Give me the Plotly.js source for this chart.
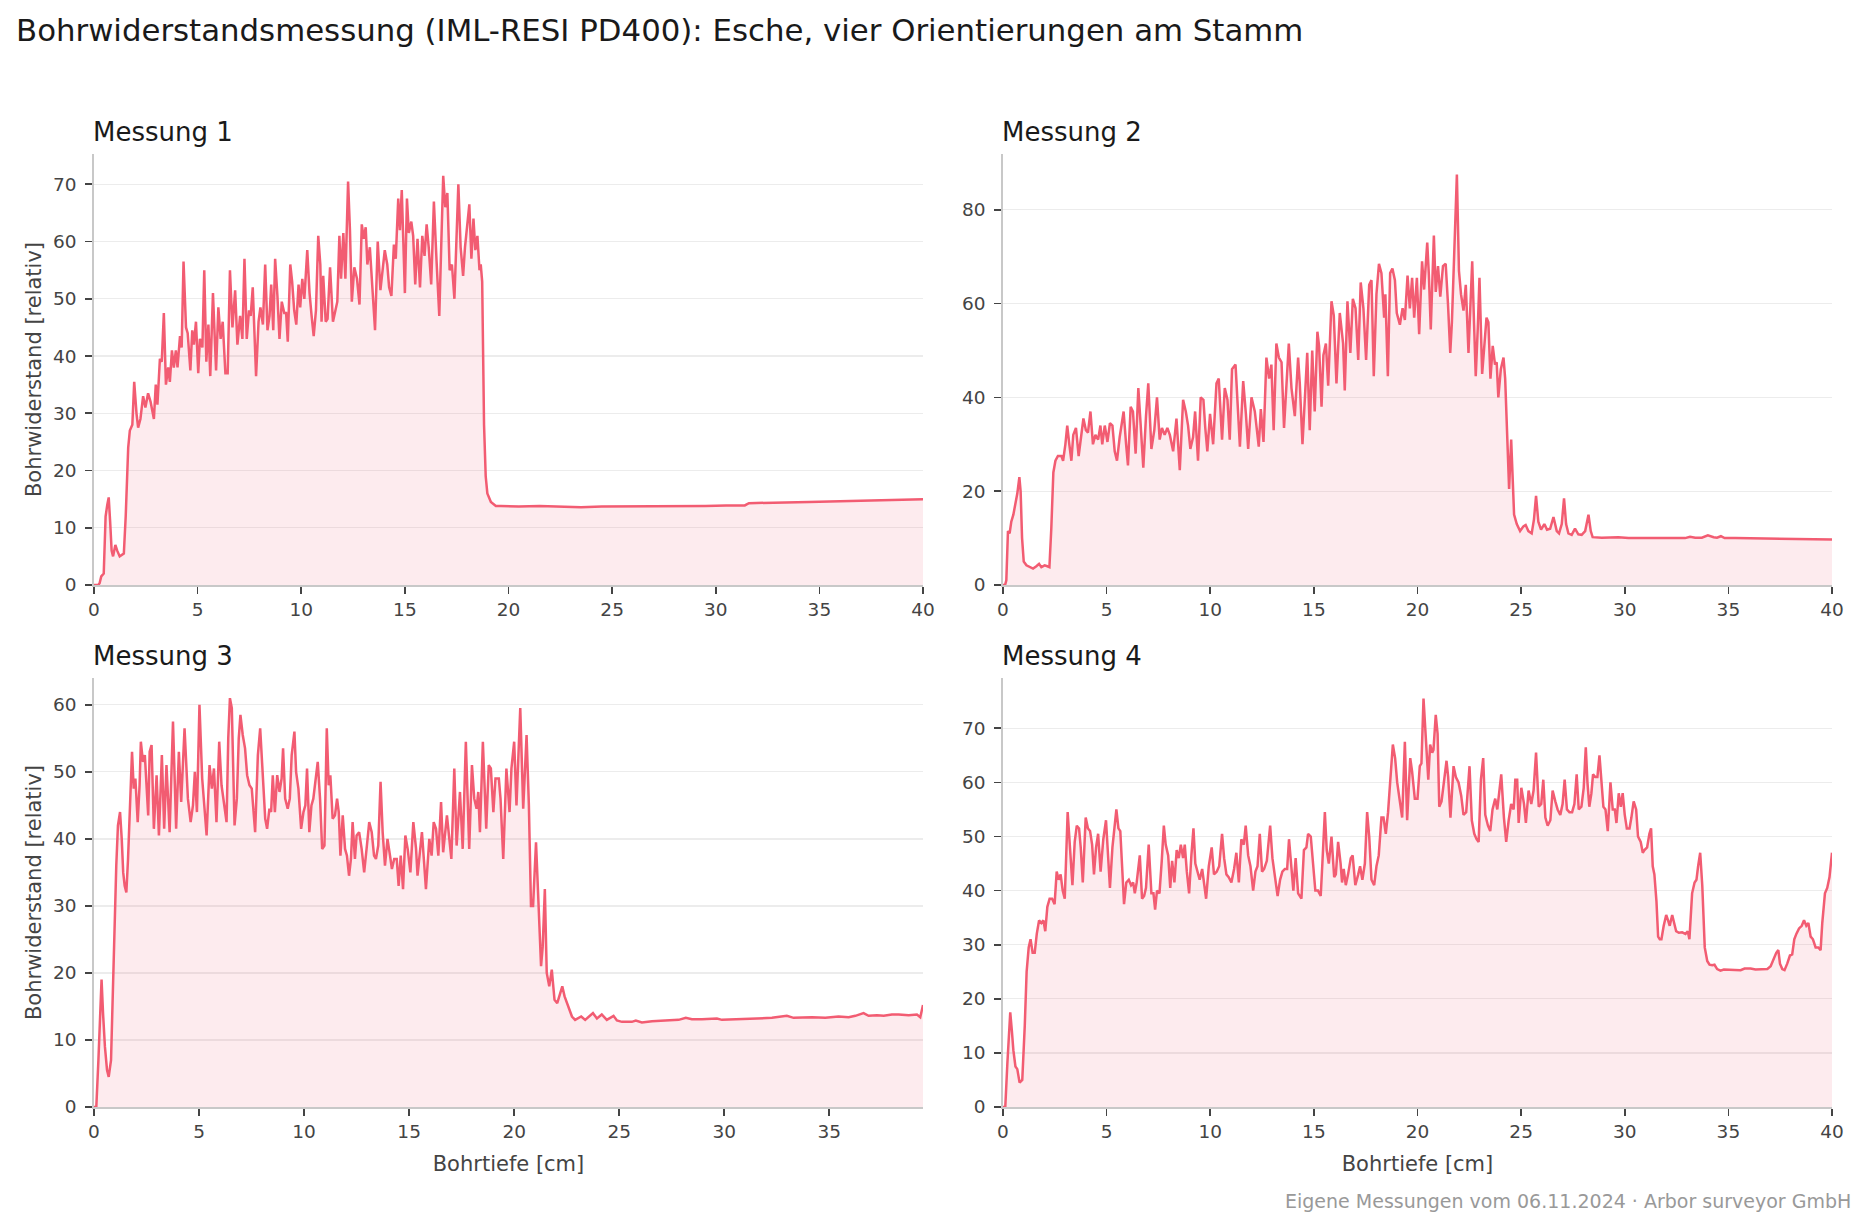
<!DOCTYPE html>
<html>
<head>
<meta charset="utf-8">
<script src="https://cdn.plot.ly/plotly-3.0.1.min.js"></script>
<style>
  html, body { margin: 0; padding: 0; background: #ffffff; }
  #chart { width: 1866px; height: 1227px; }
</style>
</head>
<body>
<div id="chart"></div>
<script>
// ---------------- DATA ----------------
const chartTitle = "Bohrwiderstandsmessung (IML-RESI PD400): Esche, vier Orientierungen am Stamm";
const panelTitles = ["Messung 1", "Messung 2", "Messung 3", "Messung 4"];
const xLabel = "Bohrtiefe [cm]";
const yLabel = "Bohrwiderstand [relativ]";
const footerText = "Eigene Messungen vom 06.11.2024 · Arbor surveyor GmbH";

// [Bohrtiefe cm, Bohrwiderstand relativ]
const messung1 = [
  [0,0],[0.2,0],[0.27,0.3],[0.35,1.5],[0.47,2],[0.56,12],[0.64,14],[0.71,15.3],[0.78,11],[0.85,6],[0.92,5],
  [1.03,7],[1.12,6],[1.24,5],[1.44,5.5],[1.53,12],[1.65,24],[1.73,27],[1.85,28],[1.94,35.5],[2.05,30],
  [2.13,27.5],[2.24,29],[2.37,33],[2.48,31],[2.61,33.5],[2.73,32],[2.89,29],[2.98,35],[3.06,31.5],[3.18,39.5],
  [3.27,39],[3.37,47.5],[3.47,35],[3.58,38],[3.66,35.5],[3.76,41],[3.85,38],[3.95,41],[4.03,38],[4.15,43.5],
  [4.23,41.5],[4.32,56.5],[4.44,45],[4.52,44],[4.65,37.5],[4.74,44.5],[4.82,42],[4.92,46],[5.03,37],[5.11,43],
  [5.23,41.5],[5.32,55],[5.42,39],[5.52,45.5],[5.61,36.5],[5.74,51],[5.89,37.5],[6.0,48.5],[6.11,43],[6.21,46],
  [6.34,37],[6.45,37],[6.56,55],[6.68,45],[6.81,51.5],[6.92,42],[7.05,47],[7.16,43],[7.26,57],[7.37,43],
  [7.48,48],[7.56,47],[7.66,52],[7.82,36.5],[7.94,46],[8.03,48.5],[8.15,45.5],[8.26,56],[8.37,44.5],[8.47,47],
  [8.55,52.5],[8.65,44.5],[8.74,57],[8.85,50.5],[8.95,43],[9.06,49.5],[9.18,47.5],[9.27,47.5],[9.35,42.5],[9.47,56],
  [9.56,53],[9.66,48],[9.76,45.5],[9.87,52.5],[9.95,48.5],[10.05,53.5],[10.15,50],[10.29,58.5],[10.4,51],[10.5,47],
  [10.6,43.5],[10.71,48],[10.82,61],[10.92,56],[10.98,46],[11.06,54],[11.18,46],[11.27,46.5],[11.39,55.5],[11.53,46],
  [11.65,48],[11.74,49.5],[11.84,61],[11.92,53.5],[12.03,61.5],[12.13,53.5],[12.26,70.5],[12.35,62],[12.44,49.5],[12.56,55.5],
  [12.69,53.5],[12.81,49],[12.92,63],[13.02,60.5],[13.11,62.5],[13.19,56],[13.31,59],[13.44,52],[13.56,44.5],[13.69,60],
  [13.82,51.5],[13.94,55.5],[14.03,58.5],[14.15,56],[14.24,52],[14.35,50.5],[14.47,59.5],[14.56,57],[14.68,67.5],[14.76,62],
  [14.85,69],[15.0,51],[15.1,67.5],[15.19,61.5],[15.31,63.5],[15.4,61],[15.5,52.5],[15.61,60.5],[15.73,52],[15.84,61],
  [15.95,57.5],[16.05,63],[16.15,59],[16.27,52.5],[16.4,67],[16.53,56.5],[16.66,47],[16.76,60],[16.85,71.5],[16.95,66],
  [17.05,68.5],[17.16,55],[17.27,56],[17.39,50],[17.48,61],[17.58,70],[17.69,59],[17.81,54],[17.9,59],[17.98,62],
  [18.11,66.5],[18.21,57],[18.31,64],[18.4,58.5],[18.5,61],[18.6,55],[18.66,56],[18.73,53],[18.77,40],[18.82,28],
  [18.9,19],[18.98,16],[19.15,14.5],[19.39,13.8],[19.63,13.8],[20.5,13.7],[21.5,13.8],[22.5,13.7],[23.5,13.6],[24.5,13.7],
  [25.5,13.7],[26.5,13.8],[27.5,13.7],[28.5,13.8],[29.5,13.8],[30.5,13.9],[31.4,13.9],[31.6,14.3],[32.5,14.4],[33.5,14.4],
  [34.5,14.5],[35.5,14.6],[36.5,14.7],[37.5,14.8],[38.5,14.9],[39.3,15.0],[40.0,15.0]
];

const messung2 = [
  [0,0],[0.1,0],[0.16,1],[0.24,11.5],[0.32,11],[0.4,13.5],[0.5,15],[0.6,17],[0.69,19.5],[0.79,23],[0.85,20],
  [0.92,10],[1.0,5],[1.13,4.2],[1.29,3.8],[1.45,3.5],[1.61,4],[1.74,4.5],[1.85,3.8],[2.01,4.2],[2.14,4],
  [2.24,3.8],[2.33,12],[2.43,24],[2.53,26.5],[2.65,27.5],[2.82,27.5],[2.9,26.5],[3.01,30],[3.1,34],[3.2,30],
  [3.3,26.5],[3.39,32],[3.52,33.5],[3.65,27.5],[3.75,31.5],[3.88,35.5],[4.0,33],[4.1,32.5],[4.22,37],[4.34,30],
  [4.46,32],[4.59,31],[4.7,34],[4.79,30],[4.91,34],[5.04,30.5],[5.16,34.5],[5.28,34],[5.39,28.5],[5.5,26.5],
  [5.63,31.5],[5.71,33.5],[5.82,37],[5.94,30],[6.03,25.5],[6.16,38],[6.27,37],[6.4,28],[6.53,42],[6.63,35],
  [6.77,25],[6.9,36],[7.01,43],[7.16,29],[7.3,33],[7.43,40],[7.56,31],[7.67,33.5],[7.8,32],[7.93,33.5],
  [8.05,32],[8.21,28.5],[8.37,35.5],[8.53,24.5],[8.69,39.5],[8.82,37],[8.93,34],[9.04,29],[9.17,31.5],[9.27,37],
  [9.41,26.5],[9.54,40],[9.67,39.5],[9.76,33.5],[9.86,28.5],[9.99,36.5],[10.14,30],[10.3,43],[10.41,44],[10.57,31],
  [10.7,42],[10.83,39.5],[10.94,31],[11.05,46],[11.22,47],[11.43,29.5],[11.59,43.5],[11.72,36.5],[11.83,29],[11.99,40],
  [12.15,37],[12.34,29.5],[12.44,37.5],[12.57,30.5],[12.71,48.5],[12.84,44],[12.95,47],[13.06,33],[13.19,51.5],[13.31,48.5],
  [13.44,47.5],[13.56,33.5],[13.68,43],[13.79,51.5],[13.92,42],[14.08,36],[14.24,48.5],[14.32,43],[14.45,30],[14.56,40],
  [14.68,49.5],[14.8,33],[14.92,50],[15.04,37],[15.17,54],[15.25,51],[15.37,38],[15.46,49],[15.58,51.5],[15.69,42.5],
  [15.85,60.5],[15.96,57.5],[16.09,43],[16.25,58],[16.33,54],[16.41,51.5],[16.49,41.5],[16.62,60.5],[16.76,49.5],[16.88,61],
  [17.01,59],[17.14,48],[17.26,64.5],[17.39,59],[17.52,48],[17.67,64],[17.78,65],[17.89,44.5],[18.02,62],[18.14,68.5],
  [18.26,66.5],[18.39,57],[18.45,62],[18.57,44.5],[18.68,66.5],[18.79,67.5],[18.91,65],[19.0,58],[19.15,55.5],[19.28,59],
  [19.39,56.5],[19.52,66],[19.63,59],[19.74,65.5],[19.84,57],[19.97,65.5],[20.08,53.5],[20.22,69],[20.32,63],[20.47,73],
  [20.55,66],[20.64,54.5],[20.79,74.5],[20.88,62.5],[20.99,68],[21.1,61.5],[21.23,68],[21.36,68.5],[21.47,60],[21.58,49.5],
  [21.66,56],[21.78,70],[21.9,87.5],[22.0,67],[22.1,62],[22.22,58.5],[22.33,64],[22.46,49.5],[22.54,60],[22.64,69],
  [22.72,57],[22.81,44.5],[22.91,55],[22.99,65.5],[23.12,45],[23.23,52],[23.33,57],[23.42,56],[23.52,44],[23.63,51],
  [23.74,47],[23.82,47.5],[23.9,40],[24.02,46],[24.15,48.5],[24.23,44],[24.33,30],[24.42,20.5],[24.52,31],[24.6,20],
  [24.66,15],[24.79,13],[24.95,11.5],[25.11,12.5],[25.22,12.8],[25.35,11.5],[25.51,11],[25.62,14],[25.72,19],[25.83,13.5],
  [25.96,11.8],[26.12,13],[26.25,11.8],[26.4,12],[26.56,14.5],[26.72,11.5],[26.83,11],[26.96,13],[27.07,18.5],[27.17,13],
  [27.28,11],[27.44,10.7],[27.6,12],[27.76,10.8],[27.92,10.7],[28.09,11.5],[28.25,15],[28.36,11.5],[28.45,10.2],[28.89,10.1],
  [29.69,10.2],[30.18,10.0],[31.3,10.0],[32.1,9.9],[32.91,10.0],[33.15,10.3],[33.4,10.1],[33.72,10.1],[34.01,10.6],[34.29,10.2],
  [34.45,10.1],[34.64,10.4],[34.82,10.0],[35.33,10.0],[36.94,9.9],[38.55,9.8],[40.0,9.7]
];

const messung3 = [
  [0,0],[0.11,0],[0.21,7],[0.27,12],[0.36,19],[0.43,14],[0.52,9],[0.62,5.5],[0.7,4.5],[0.81,7],[0.9,18],
  [0.98,30],[1.06,36],[1.14,42],[1.24,44],[1.32,40],[1.39,35],[1.46,33],[1.54,32],[1.62,37],[1.7,44],
  [1.74,48],[1.81,53],[1.89,47.5],[1.97,49],[2.08,42.5],[2.17,48],[2.23,54.5],[2.33,51.5],[2.42,52.5],[2.5,48],
  [2.58,43.5],[2.65,53],[2.74,54],[2.85,41.5],[2.98,49.5],[3.09,40.5],[3.23,52.5],[3.34,41.5],[3.45,51],[3.6,41],
  [3.76,57.5],[3.91,41.5],[4.04,53],[4.15,45.5],[4.31,56.5],[4.47,46],[4.6,42.5],[4.71,45],[4.8,50],[4.9,44],
  [5.02,60],[5.15,49],[5.26,45],[5.36,40.5],[5.5,51],[5.61,47.5],[5.71,50.5],[5.83,42.5],[5.96,54.5],[6.07,48],
  [6.18,45.5],[6.31,42.5],[6.39,55],[6.47,61],[6.56,59.5],[6.69,42],[6.8,46],[6.89,55],[6.97,58.5],[7.08,55.5],
  [7.19,53.5],[7.29,49.5],[7.4,48],[7.51,47.5],[7.67,41],[7.8,52.5],[7.91,56.5],[8.03,50],[8.15,43],[8.24,41.5],
  [8.35,44.5],[8.43,44],[8.51,49.5],[8.61,44],[8.72,49.5],[8.83,47],[8.93,49],[9.0,53.5],[9.1,46],[9.22,44.5],
  [9.32,46],[9.41,52.5],[9.54,56],[9.62,50],[9.73,47.5],[9.86,41.5],[9.97,44],[10.06,45],[10.14,50.5],[10.25,41],
  [10.35,45],[10.44,46],[10.54,49],[10.65,51.5],[10.76,46],[10.86,38.5],[10.97,39],[11.08,56.5],[11.17,48],[11.25,49.5],
  [11.36,43],[11.47,43.5],[11.57,46],[11.65,44],[11.73,37.5],[11.84,43.5],[11.95,38.5],[12.04,37.5],[12.14,34.5],[12.23,37],
  [12.31,42.5],[12.42,37],[12.5,40.5],[12.62,41],[12.74,38.5],[12.86,35],[12.99,39],[13.1,42.5],[13.22,41],[13.33,37.5],
  [13.42,37],[13.53,39],[13.64,48.5],[13.74,41],[13.85,36],[13.97,40],[14.09,37.5],[14.18,35.5],[14.29,37],[14.41,37],
  [14.5,33],[14.6,37.5],[14.71,32.5],[14.82,40.5],[14.93,38.5],[15.06,35],[15.2,42.5],[15.33,38.5],[15.4,34.5],[15.51,38.5],
  [15.61,41],[15.7,37],[15.8,32.5],[15.96,40],[16.07,37.5],[16.17,42.5],[16.28,41.5],[16.39,37.5],[16.52,45.5],[16.62,38],
  [16.8,43.5],[17.01,37],[17.15,50.5],[17.26,39],[17.42,47],[17.55,38.5],[17.7,54.5],[17.86,38.5],[17.99,51],[18.1,46],
  [18.21,44.5],[18.29,47],[18.37,41],[18.51,54.5],[18.67,41.5],[18.79,51],[18.89,50.5],[19.01,44],[19.11,49],[19.27,49],
  [19.35,46],[19.48,37],[19.63,50.5],[19.78,44],[19.87,50.5],[20.0,54.5],[20.11,45],[20.29,59.5],[20.43,44.5],[20.59,55.5],
  [20.7,45],[20.8,30],[20.9,30],[21.04,39.5],[21.16,30],[21.28,21],[21.36,24],[21.46,32.5],[21.55,20],[21.67,18],
  [21.79,20.5],[21.92,16],[22.05,15.5],[22.16,16.5],[22.29,18],[22.4,16.5],[22.51,15.5],[22.62,14.5],[22.75,13.5],[22.9,13],
  [23.06,13.3],[23.19,13.5],[23.38,13],[23.54,13.5],[23.75,14],[23.94,13.2],[24.17,13.8],[24.41,13],[24.73,13.6],[24.89,12.9],
  [25.13,12.7],[25.6,12.7],[25.79,12.9],[26.08,12.6],[26.56,12.8],[27.19,12.9],[27.83,13.0],[28.17,13.3],[28.46,13.1],[28.94,13.1],
  [29.65,13.2],[29.89,13.0],[30.68,13.1],[31.48,13.2],[32.27,13.3],[32.98,13.6],[33.3,13.3],[34.17,13.4],[34.81,13.3],[35.44,13.5],
  [35.92,13.4],[36.24,13.6],[36.63,14.0],[36.87,13.6],[37.27,13.7],[37.59,13.6],[37.98,13.8],[38.3,13.8],[38.78,13.7],[39.17,13.8],
  [39.33,13.4],[39.46,15.2]
];

const messung4 = [
  [0,0],[0.11,0],[0.21,8],[0.29,15],[0.35,17.5],[0.43,14],[0.5,10.5],[0.6,7.5],[0.69,7],[0.8,4.5],[0.93,5],
  [1.05,15],[1.14,25],[1.24,29.5],[1.33,31],[1.43,28.5],[1.53,28.5],[1.63,32],[1.74,34.5],[1.85,34],[1.95,34.5],
  [2.04,32.5],[2.14,37],[2.25,38.5],[2.37,38.5],[2.49,37.5],[2.59,43.5],[2.69,42],[2.78,43],[2.88,40],[2.98,38.5],
  [3.12,54.5],[3.23,47],[3.35,41],[3.46,49],[3.56,52],[3.67,51.5],[3.75,48],[3.85,41.5],[3.99,53.5],[4.1,51.5],
  [4.2,51],[4.3,48.5],[4.39,43],[4.49,48],[4.59,50.5],[4.71,43.5],[4.84,49.5],[4.97,53],[5.07,45],[5.16,40.5],
  [5.28,48],[5.37,52],[5.47,55],[5.57,51.5],[5.66,51],[5.74,45],[5.84,37.5],[5.95,41.5],[6.07,42],[6.18,41],
  [6.28,41.5],[6.36,39.5],[6.45,41.5],[6.6,46.5],[6.71,38.5],[6.81,39],[6.9,40.5],[7.03,48.5],[7.16,39.5],[7.26,39.5],
  [7.34,36.5],[7.43,40],[7.55,39.5],[7.66,45.5],[7.76,52],[7.85,48.5],[7.97,46.5],[8.07,40.5],[8.16,45.5],[8.27,41.5],
  [8.38,47.5],[8.48,46],[8.58,48.5],[8.69,46],[8.77,48.5],[8.87,43.5],[8.98,39.5],[9.09,46.5],[9.19,51.5],[9.28,45],
  [9.38,43.5],[9.49,42],[9.61,44],[9.7,41],[9.8,38.5],[9.93,44.5],[10.07,48],[10.18,43],[10.31,43.5],[10.43,44.5],
  [10.57,50.5],[10.67,46],[10.78,43],[10.89,42.5],[11.02,41.5],[11.15,44],[11.26,47],[11.38,41.5],[11.5,49.5],[11.62,48.5],
  [11.71,52],[11.83,46.5],[11.94,44.5],[12.07,40],[12.18,43.5],[12.28,44.5],[12.39,50.5],[12.5,43.5],[12.6,44],[12.73,45.5],
  [12.89,52],[13.0,46],[13.12,42.5],[13.25,39],[13.37,42],[13.48,43.5],[13.6,44],[13.71,44],[13.8,49.5],[13.92,43],
  [14.01,40],[14.12,46],[14.24,39.5],[14.4,38.5],[14.52,47.5],[14.64,48],[14.72,50.5],[14.85,50],[14.96,45],[15.07,40],
  [15.2,40],[15.33,39],[15.41,45],[15.53,54.5],[15.62,47.5],[15.72,45],[15.85,50],[15.98,42.5],[16.06,43],[16.17,49],
  [16.29,45],[16.36,41.5],[16.44,44],[16.54,41],[16.65,43],[16.78,46],[16.87,46.5],[17.0,41],[17.14,43],[17.23,44.5],
  [17.34,42],[17.46,45],[17.57,54.5],[17.67,50],[17.78,42],[17.91,41],[18.02,44.5],[18.13,46.5],[18.26,53.5],[18.36,53.5],
  [18.47,50.5],[18.58,54.5],[18.68,60],[18.81,67],[18.92,64.5],[19.02,60],[19.13,57],[19.26,53.5],[19.39,67.5],[19.5,53],
  [19.65,64.5],[19.74,62],[19.87,57],[20.0,57],[20.11,63],[20.19,63.5],[20.29,75.5],[20.4,67],[20.52,60.5],[20.61,67],
  [20.71,65.5],[20.77,66],[20.88,72.5],[20.97,69],[21.05,55.5],[21.16,56.5],[21.27,59.5],[21.4,64],[21.48,61],[21.59,53.5],
  [21.74,63],[21.85,61],[21.98,60],[22.11,57.5],[22.22,54],[22.35,54.5],[22.51,63],[22.62,53],[22.74,50.5],[22.85,49.5],
  [22.95,49],[23.06,60.5],[23.17,64.5],[23.27,54],[23.4,52],[23.51,51],[23.62,55],[23.75,57],[23.85,55],[23.95,58],
  [24.04,61.5],[24.17,53.5],[24.28,49],[24.4,53],[24.52,56],[24.64,55],[24.72,60.5],[24.81,60.5],[24.88,52.5],[25.01,59],
  [25.14,56],[25.23,52.5],[25.36,58.5],[25.49,56],[25.6,58.5],[25.72,65.5],[25.85,55.5],[25.97,56],[26.07,60.5],[26.17,53.5],
  [26.28,52],[26.41,53],[26.52,58.5],[26.65,56.5],[26.76,55],[26.89,54],[27.0,56],[27.1,60.5],[27.21,55],[27.33,54.5],
  [27.46,54.5],[27.57,56],[27.68,61.5],[27.78,55],[27.91,55.5],[28.02,59],[28.12,66.5],[28.2,60],[28.29,55.5],[28.39,58],
  [28.47,61.5],[28.58,61],[28.68,61],[28.78,65],[28.87,60],[28.97,55.5],[29.07,55],[29.18,51],[29.31,60],[29.42,55],
  [29.52,55],[29.6,52.5],[29.71,58],[29.81,55.5],[29.9,58],[30.0,54],[30.1,51.5],[30.23,51.5],[30.32,53.5],[30.43,56.5],
  [30.55,55],[30.64,50],[30.77,49],[30.87,47],[30.95,47.5],[31.08,48],[31.19,50.5],[31.27,51.5],[31.35,44.5],[31.43,43],
  [31.53,38],[31.61,31.5],[31.69,31],[31.77,31],[31.88,33.5],[32.0,35.5],[32.09,34.5],[32.17,33.5],[32.29,35.5],[32.37,34],
  [32.48,32.5],[32.61,32.2],[32.77,32.3],[32.93,32],[33.04,32.5],[33.12,31],[33.19,37],[33.25,39.5],[33.37,41.5],[33.46,42],
  [33.54,44.5],[33.64,47],[33.74,41],[33.8,33],[33.86,29.5],[33.98,27],[34.09,26.3],[34.22,26.2],[34.33,26.3],[34.46,25.5],
  [34.62,25.2],[34.78,25.4],[35.02,25.4],[35.35,25.4],[35.59,25.3],[35.78,25.6],[36.07,25.6],[36.31,25.4],[36.63,25.4],[36.88,25.5],
  [37.04,26],[37.2,27.5],[37.31,28.5],[37.41,29],[37.49,26.5],[37.6,25.5],[37.71,25.3],[37.84,26.5],[37.97,28],[38.08,28.2],
  [38.18,31],[38.28,32],[38.41,33],[38.54,33.5],[38.65,34.5],[38.76,33.5],[38.86,34],[38.97,31.5],[39.08,31],[39.21,29.5],
  [39.34,29.5],[39.45,29],[39.53,34],[39.66,39.5],[39.77,40.5],[39.88,42.5],[40.0,47]
];

const profiles = [messung1, messung2, messung3, messung4];
const xMax = [40, 40, 39.46, 40];
const yMax = [75.3, 91.9, 64.0, 79.3];
const yStep = [10, 20, 10, 10];

// ---------------- STYLE / LAYOUT ----------------
const W = 1866, H = 1227;
const LINE = "#F25C72";
const FILL = "rgba(242,92,114,0.12)";
const FONT = "DejaVu Sans, Liberation Sans, sans-serif";
const fx = p => p / W;
const fy = p => 1 - p / H;

// pixel boxes of the four plot areas [left, right, top, bottom]
const boxes = [
  [94, 923, 154, 585],
  [1003, 1832, 154, 585],
  [94, 923, 678, 1107],
  [1003, 1832, 678, 1107]
];

const traces = profiles.map((prof, i) => ({
  type: "scatter",
  mode: "lines",
  x: prof.map(p => p[0]),
  y: prof.map(p => p[1]),
  xaxis: i === 0 ? "x" : "x" + (i + 1),
  yaxis: i === 0 ? "y" : "y" + (i + 1),
  line: { color: LINE, width: 2.5 },
  fill: "tozeroy",
  fillcolor: FILL,
  hoverinfo: "skip",
  showlegend: false
}));

const layout = {
  width: W, height: H,
  margin: { l: 0, r: 0, t: 0, b: 0, pad: 0 },
  paper_bgcolor: "#ffffff",
  plot_bgcolor: "#ffffff",
  font: { family: FONT, color: "#444444", size: 18 },
  showlegend: false,
  title: {
    text: chartTitle,
    x: fx(16), xanchor: "left",
    y: fy(30), yanchor: "middle",
    font: { family: FONT, size: 30.8, color: "#1a1a1a" }
  },
  annotations: []
};

boxes.forEach((b, i) => {
  const sfx = i === 0 ? "" : String(i + 1);
  const isLeft = (i % 2 === 0);
  const isBottom = (i >= 2);
  layout["xaxis" + sfx] = {
    domain: [fx(b[0]), fx(b[1])],
    anchor: "y" + sfx,
    range: [0, xMax[i]],
    tick0: 0, dtick: 5,
    showgrid: false, zeroline: false,
    showline: true, linecolor: "#c8c8c8", linewidth: 1.7,
    ticks: "outside", ticklen: 7, tickwidth: 1.7, tickcolor: "#444444",
    ticklabelstandoff: 0,
    tickfont: { family: FONT, size: 18.5, color: "#444444" },
    title: isBottom ? { text: xLabel, standoff: 15, font: { family: FONT, size: 21, color: "#444444" } } : { text: "" }
  };
  layout["yaxis" + sfx] = {
    domain: [fy(b[3]), fy(b[2])],
    anchor: "x" + sfx,
    range: [0, yMax[i]],
    tick0: 0, dtick: yStep[i],
    showgrid: true, gridcolor: "#ececec", gridwidth: 1.3,
    zeroline: false,
    showline: true, linecolor: "#c8c8c8", linewidth: 1.7,
    ticks: "outside", ticklen: 7, tickwidth: 1.7, tickcolor: "#444444",
    ticklabelstandoff: 5,
    tickfont: { family: FONT, size: 18.5, color: "#444444" },
    title: isLeft ? { text: yLabel, standoff: 6, font: { family: FONT, size: 21, color: "#444444" } } : { text: "" }
  };
  layout.annotations.push({
    text: panelTitles[i],
    xref: "paper", yref: "paper",
    x: fx(b[0] - 3), xanchor: "left",
    y: fy(b[2] - 22), yanchor: "middle",
    showarrow: false,
    font: { family: FONT, size: 26, color: "#1a1a1a" }
  });
});

layout.annotations.push({
  text: footerText,
  xref: "paper", yref: "paper",
  x: fx(1853), xanchor: "right",
  y: fy(1201), yanchor: "middle",
  showarrow: false,
  font: { family: FONT, size: 19, color: "#999999" }
});

Plotly.newPlot("chart", traces, layout, { displayModeBar: false, staticPlot: true });
</script>
</body>
</html>
